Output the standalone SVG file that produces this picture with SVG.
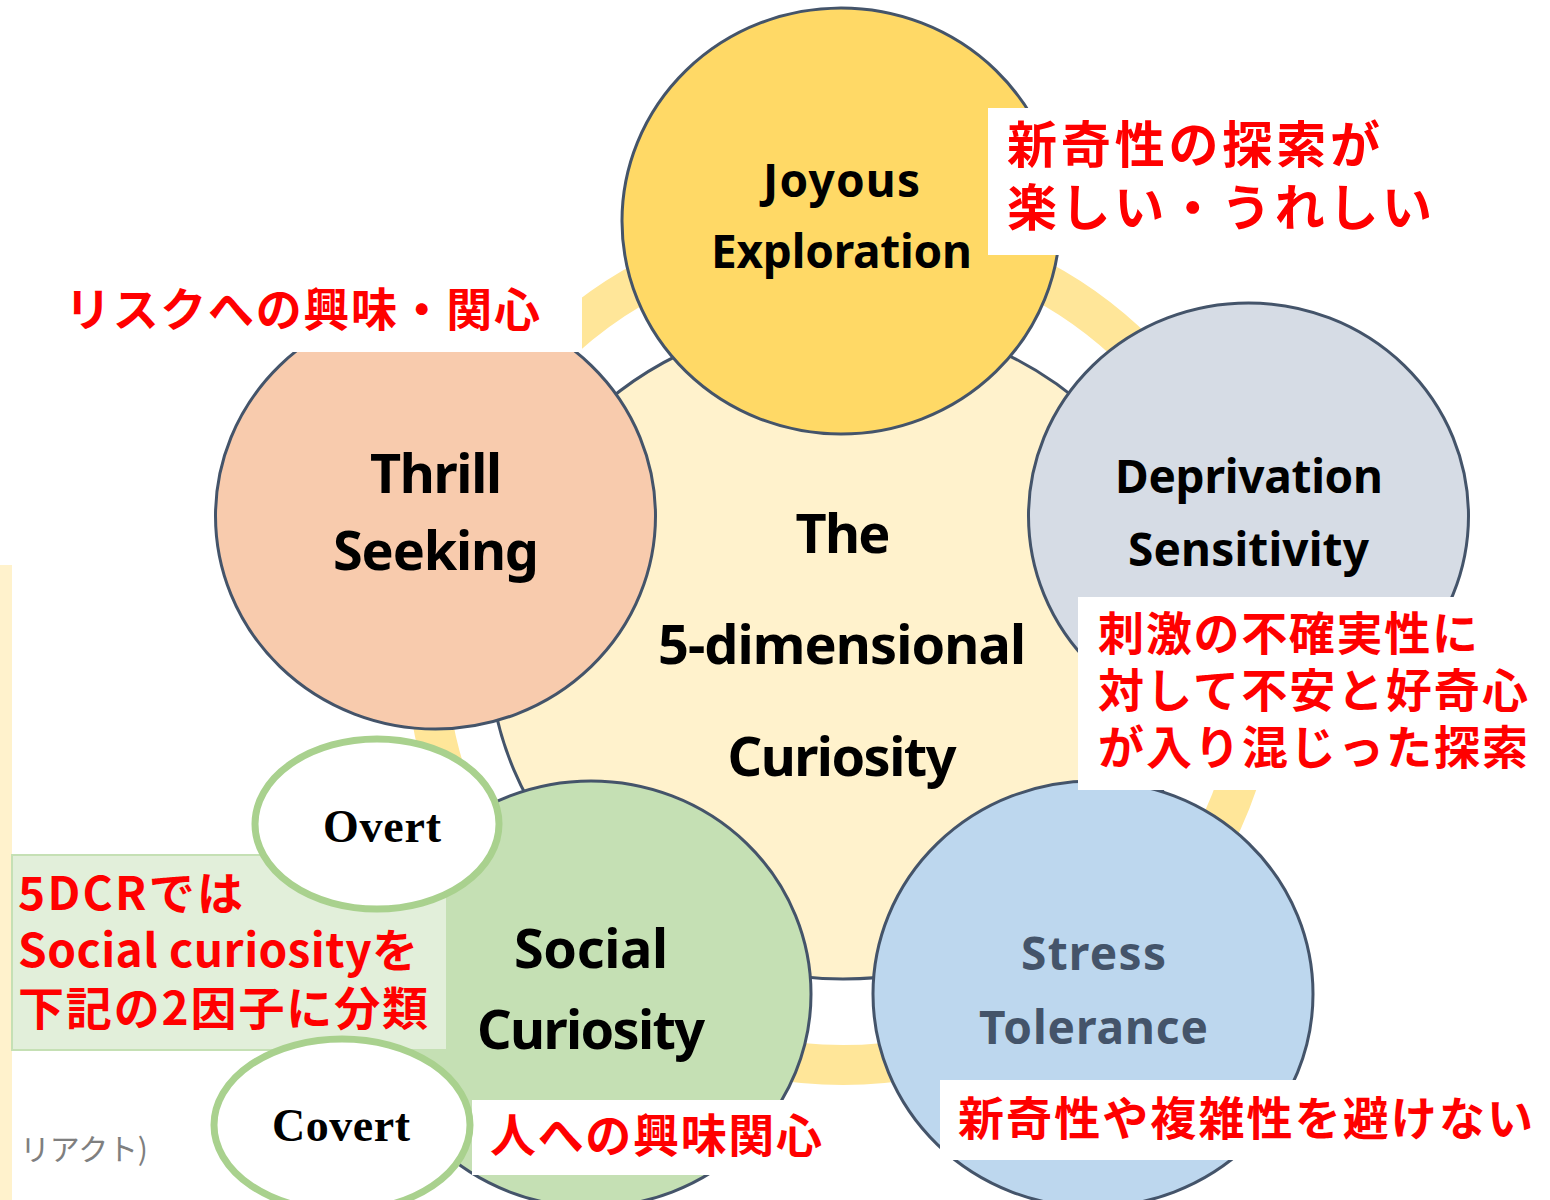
<svg xmlns="http://www.w3.org/2000/svg" width="1550" height="1200" viewBox="0 0 1550 1200">
<style>
.c{stroke:#44546A;stroke-width:3}
.t{font-family:"Noto Sans","Noto Sans CJK JP",sans-serif;font-weight:bold;text-anchor:middle;fill:#000}
.r{font-family:"Noto Sans CJK JP","Noto Sans",sans-serif;font-weight:bold;fill:#FF0000}
.box{fill:#FFFFFF}
.s{font-family:"Liberation Serif",serif;font-weight:bold;font-size:46px;text-anchor:middle;fill:#000}
.ov{fill:#FFFFFF;stroke:#A9D18E;stroke-width:7}
</style>
<rect x="0" y="0" width="1550" height="1200" fill="#FFFFFF"/>
<g id="ring"><circle cx="843" cy="648" r="417" fill="none" stroke="#FFE699" stroke-width="40"/></g>
<g id="center">
<ellipse class="c" cx="843" cy="648" rx="354" ry="331" fill="#FFF2CC"/>
<text class="t" x="843" y="553" font-size="54" textLength="95">The</text>
<text class="t" x="842" y="664" font-size="54" textLength="368">5-dimensional</text>
<text class="t" x="842" y="776" font-size="54" textLength="229">Curiosity</text>
</g>
<g id="joyous">
<ellipse class="c" cx="841" cy="221" rx="219" ry="213" fill="#FFD966"/>
<text class="t" x="841.5" y="197" font-size="46" textLength="157">Joyous</text>
<text class="t" x="841.5" y="268" font-size="46" textLength="261">Exploration</text>
</g>
<g id="deprivation">
<ellipse class="c" cx="1248.5" cy="516" rx="220" ry="213" fill="#D6DCE5"/>
<text class="t" x="1249" y="493" font-size="46" textLength="268">Deprivation</text>
<text class="t" x="1248.5" y="566" font-size="46" textLength="241">Sensitivity</text>
</g>
<g id="thrill">
<ellipse class="c" cx="435.5" cy="516" rx="220" ry="213" fill="#F8CBAD"/>
<text class="t" x="436" y="493" font-size="54" textLength="132">Thrill</text>
<text class="t" x="436" y="570" font-size="54" textLength="206">Seeking</text>
</g>
<g id="stress">
<ellipse class="c" cx="1093" cy="994" rx="220" ry="213" fill="#BDD7EE"/>
<text class="t" x="1093.5" y="970" font-size="46" textLength="145" style="fill:#44546A">Stress</text>
<text class="t" x="1093.5" y="1044" font-size="46" textLength="229" style="fill:#44546A">Tolerance</text>
</g>
<g id="social">
<ellipse class="c" cx="591" cy="994" rx="220" ry="213" fill="#C5E0B4"/>
<text class="t" x="591" y="968" font-size="54" textLength="154">Social</text>
<text class="t" x="591" y="1049" font-size="54" textLength="228">Curiosity</text>
</g>
<g id="labels">
<rect class="box" x="988" y="108" width="460" height="147"/>
<text class="r" x="1007" y="163" font-size="50" textLength="373">新奇性の探索が</text>
<text class="r" x="1007" y="226" font-size="50" textLength="425">楽しい・うれしい</text>
<rect class="box" x="55" y="280" width="527" height="72"/>
<text class="r" x="65" y="326" font-size="46" textLength="475">リスクへの興味・関心</text>
<rect class="box" x="1078" y="597" width="455" height="193"/>
<text class="r" x="1098" y="650" font-size="46" textLength="380">刺激の不確実性に</text>
<text class="r" x="1098" y="707" font-size="46" textLength="430">対して不安と好奇心</text>
<text class="r" x="1098" y="764" font-size="46" textLength="430">が入り混じった探索</text>
<rect class="box" x="940" y="1080" width="605" height="80"/>
<text class="r" x="958" y="1135" font-size="46" textLength="575">新奇性や複雑性を避けない</text>
<rect class="box" x="472" y="1100" width="362" height="75"/>
<text class="r" x="490" y="1152" font-size="46" textLength="332">人への興味関心</text>
</g>
<g id="side">
<rect x="0" y="565" width="12" height="635" fill="#FFF2CC"/>
<text x="20" y="1160" font-family="Noto Sans CJK JP,sans-serif" font-size="30" fill="#7F7F7F" textLength="128">リアクト)</text>
</g>
<g id="note">
<rect x="12" y="855" width="435" height="195" fill="#E2EFDA" stroke="#C5E0B4" stroke-width="2"/>
<text class="r" x="18" y="910" font-size="46" textLength="225">5DCRでは</text>
<text class="r" x="18" y="967" font-size="46" textLength="400">Social curiosityを</text>
<text class="r" x="18" y="1025" font-size="46" textLength="410">下記の2因子に分類</text>
</g>
<g id="overt">
<ellipse class="ov" cx="377" cy="824" rx="122" ry="85"/>
<text class="s" x="382" y="842" textLength="118">Overt</text>
</g>
<g id="covert">
<ellipse class="ov" cx="342" cy="1125" rx="128" ry="86"/>
<text class="s" x="341" y="1141" textLength="138">Covert</text>
</g>
<g id="connectors"></g>
</svg>
